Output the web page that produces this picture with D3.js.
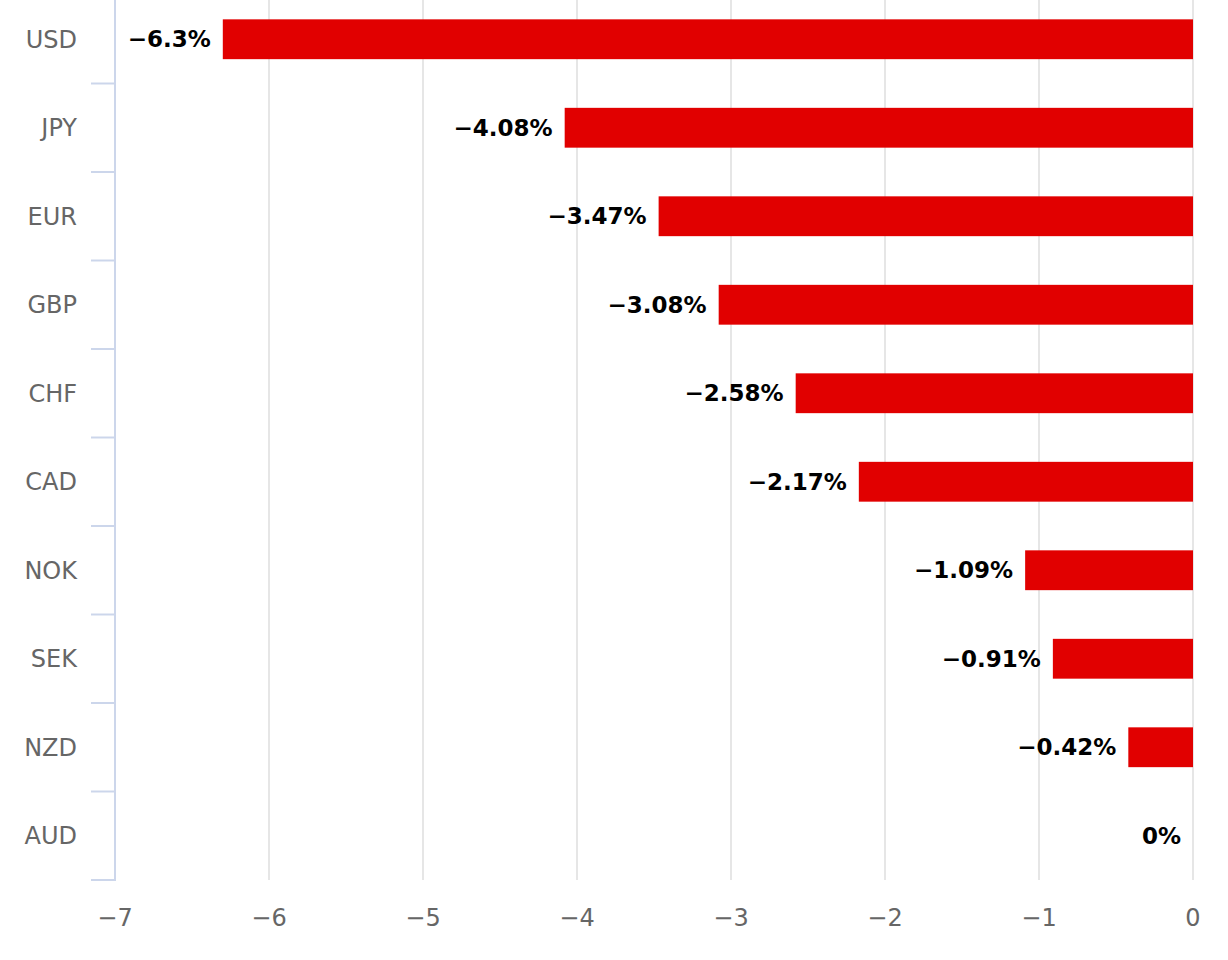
<!DOCTYPE html>
<html><head><meta charset="utf-8">
<script src="https://cdn.jsdelivr.net/npm/d3@7"></script>
<style>body{margin:0;background:#fff;}svg{display:block;}</style>
</head><body>
<svg id="chart" width="1228" height="960"></svg>
<script>
const categories = ["USD","JPY","EUR","GBP","CHF","CAD","NOK","SEK","NZD","AUD"];
const values = [-6.3,-4.08,-3.47,-3.08,-2.58,-2.17,-1.09,-0.91,-0.42,0];
const xTicks = [-7,-6,-5,-4,-3,-2,-1,0];

const svg = d3.select("#chart");
const font = "'DejaVu Sans', sans-serif";
const x = d3.scaleLinear().domain([-7,0]).range([115,1193]);
const y = d3.scaleBand().domain(categories).range([-5,880]).paddingInner(0.55).paddingOuter(0.275);
const yb = d3.scaleBand().domain(categories).range([-5,880]);

// gridlines
svg.append("g").selectAll("line").data(xTicks.filter(d=>d>-7)).join("line")
  .attr("x1",d=>x(d)).attr("x2",d=>x(d)).attr("y1",0).attr("y2",880)
  .attr("stroke","#e6e6e6").attr("stroke-width",2);

// bars
svg.append("g").selectAll("rect").data(values).join("rect")
  .attr("x",d=>x(Math.min(d,0))).attr("width",d=>Math.abs(x(d)-x(0)))
  .attr("y",(d,i)=>y(categories[i])).attr("height",y.bandwidth())
  .attr("fill","#e10000");

// value labels
const fmt = v => (v<0?"\u2212":"") + Math.abs(v) + "%";
svg.append("g").selectAll("text").data(values).join("text")
  .attr("x",d=>x(d)-12).attr("y",(d,i)=>y(categories[i])+y.bandwidth()/2)
  .attr("dy","0.35em").attr("text-anchor","end")
  .attr("font-family",font).attr("font-weight","bold").attr("font-size",23)
  .attr("fill","#000").text(fmt);

// left axis
const ga = svg.append("g");
ga.append("line").attr("x1",115).attr("x2",115).attr("y1",0).attr("y2",881)
  .attr("stroke","#ccd6eb").attr("stroke-width",2);
const bounds = categories.map(c=>yb(c)+yb.bandwidth());
ga.selectAll("line.tick").data(bounds).join("line").attr("class","tick")
  .attr("x1",91).attr("x2",116).attr("y1",d=>d).attr("y2",d=>d)
  .attr("stroke","#ccd6eb").attr("stroke-width",2);
ga.selectAll("text").data(categories).join("text")
  .attr("x",77).attr("y",d=>yb(d)+yb.bandwidth()/2).attr("dy","0.35em")
  .attr("text-anchor","end").attr("font-family",font).attr("font-size",24)
  .attr("fill","#666").text(d=>d);

// bottom axis labels
svg.append("g").selectAll("text").data(xTicks).join("text")
  .attr("x",d=>x(d)).attr("y",918).attr("dy","0.35em").attr("text-anchor","middle")
  .attr("font-family",font).attr("font-size",24).attr("fill","#666")
  .text(d=>d<0?"\u2212"+Math.abs(d):d);
</script>
</body></html>
